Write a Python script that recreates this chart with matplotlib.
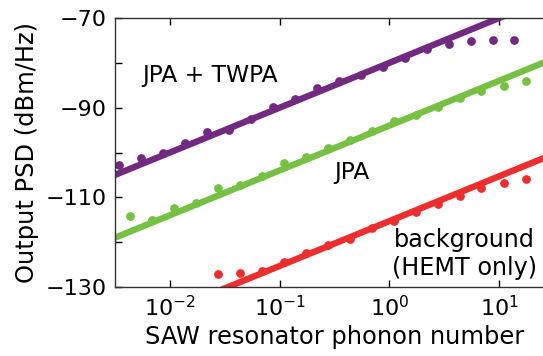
import numpy as np
import matplotlib
matplotlib.use('Agg')
import matplotlib.pyplot as plt

# число фононов в резонаторе
n_twpa = [0.00347, 0.0055, 0.0087, 0.0138, 0.0219, 0.0347, 0.055, 0.087, 0.138, 0.219,
          0.347, 0.55, 0.87, 1.38, 2.19, 3.47, 5.5, 8.7, 13.8]
psd_twpa = [-102.7, -101.2, -100.2, -97.8, -95.4, -95.0, -92.5, -89.8, -88.1, -85.7,
            -84.1, -82.7, -80.9, -79.0, -77.0, -75.9, -75.1, -74.9, -74.8]

n_jpa = [0.00437, 0.0069, 0.011, 0.0174, 0.0275, 0.0437, 0.069, 0.11, 0.174, 0.275,
         0.437, 0.69, 1.1, 1.74, 2.75, 4.37, 6.9, 11.0, 17.4]
psd_jpa = [-114.2, -115.0, -112.3, -111.3, -108.0, -107.2, -105.2, -102.4, -100.9, -99.1,
           -97.2, -95.2, -92.9, -91.6, -89.8, -87.9, -86.3, -85.2, -84.1]

n_bg = [0.0275, 0.0437, 0.069, 0.11, 0.174, 0.275, 0.437, 0.69, 1.1, 1.74,
        2.75, 4.37, 6.9, 11.0, 17.4]
psd_bg = [-127.2, -126.9, -126.4, -124.4, -122.5, -120.6, -119.4, -116.9, -115.2, -113.2,
          -111.5, -109.7, -108.0, -106.9, -105.8]

# линейные фиты: PSD = a + 10*log10(n)
fit_twpa = -80.0
fit_jpa = -94.0
fit_bg = -115.3

c_twpa = '#722a80'
c_jpa = '#76c043'
c_bg = '#ee2e2e'

plt.rcParams['font.family'] = 'DejaVu Sans'
plt.rcParams['font.size'] = 16

fig = plt.figure(figsize=(5.43, 3.56), dpi=100)
ax = fig.add_axes([0.2118, 0.1938, 0.8085, 0.7556])

x_fit = np.logspace(-2.5, 1.5, 200)
for a, c in [(fit_twpa, c_twpa), (fit_jpa, c_jpa), (fit_bg, c_bg)]:
    ax.plot(x_fit, a + 10 * np.log10(x_fit), color=c, linewidth=4.6, solid_capstyle='butt')

ax.plot(n_twpa, psd_twpa, 'o', color=c_twpa, markersize=6.3, markeredgewidth=0)
ax.plot(n_jpa, psd_jpa, 'o', color=c_jpa, markersize=6.3, markeredgewidth=0)
ax.plot(n_bg, psd_bg, 'o', color=c_bg, markersize=6.3, markeredgewidth=0)

ax.set_xscale('log')
ax.set_xlim(10**-2.5, 10**1.5)
ax.set_ylim(-130, -70)
ax.set_yticks(np.arange(-130, -69, 10))
ax.set_yticklabels(['\u2212130', '', '\u2212110', '', '\u221290', '', '\u221270'])
ax.xaxis.set_minor_locator(matplotlib.ticker.NullLocator())

ax.tick_params(direction='in', length=5, width=1, top=True, right=True, pad=6)
for s in ax.spines.values():
    s.set_linewidth(1)
    s.set_color('#333333')

ax.set_xlabel('SAW resonator phonon number', fontsize=17.4, labelpad=3)
ax.set_ylabel('Output PSD (dBm/Hz)', fontsize=17.4, labelpad=5)

ax.text(0.0232, -82.8, 'JPA + TWPA', ha='center', va='center', fontsize=16.8)
ax.text(0.456, -104.4, 'JPA', ha='center', va='center', fontsize=16.8)
ax.text(4.85, -122.6, 'background\n(HEMT only)', ha='center', va='center',
        fontsize=17.2, linespacing=1.2)

fig.savefig('out.png', dpi=100)
